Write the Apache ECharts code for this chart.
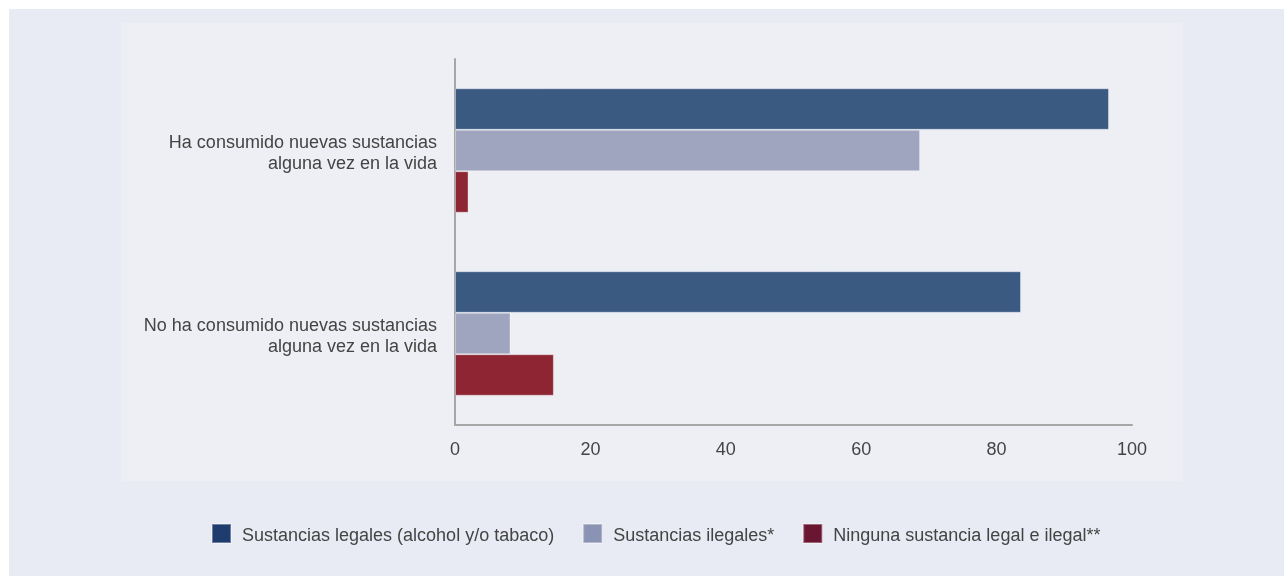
<!DOCTYPE html>
<html>
<head>
<meta charset="utf-8">
<script src="https://cdn.jsdelivr.net/npm/echarts@6/dist/echarts.min.js"></script>
<style>
html,body{margin:0;padding:0;background:#ffffff;width:1284px;height:578px;overflow:hidden;}
#outer{position:absolute;left:9px;top:9px;width:1275px;height:567px;background:#e8ebf4;}
#inner{position:absolute;left:121px;top:23px;width:1062px;height:458px;background:#eeeff5;}
#chart{position:absolute;left:0;top:0;width:1284px;height:578px;}
</style>
</head>
<body>
<div id="outer"></div>
<div id="inner"></div>
<div id="chart"></div>
<script>
const categories = ["Ha consumido nuevas sustancias\nalguna vez en la vida", "No ha consumido nuevas sustancias\nalguna vez en la vida"];
const seriesNames = ["Sustancias legales (alcohol y/o tabaco)", "Sustancias ilegales*", "Ninguna sustancia legal e ilegal**"];
const legales = [96.6, 83.6];
const ilegales = [68.7, 8.2];
const ninguna = [2.0, 14.6];
const xTicks = [0, 20, 40, 60, 80, 100];

const barColors = ["#3b5a82", "#a0a5bf", "#8e2533"];
const legendColors = ["#1f3c6e", "#8b93b5", "#6a1532"];
const values = [legales, ilegales, ninguna];

const chart = echarts.init(document.getElementById('chart'), null, {renderer: 'canvas'});
const font = "'Liberation Sans', Arial, Helvetica, sans-serif";

chart.setOption({
  backgroundColor: 'transparent',
  animation: false,
  textStyle: {fontFamily: font},
  grid: {left: 455, right: 152, top: 59, bottom: 153, containLabel: false},
  legend: {
    left: 206, top: 518,
    itemWidth: 19, itemHeight: 19, itemGap: 28,
    icon: 'rect',
    formatter: n => '{s| }\n{t|' + n + '}',
    textStyle: {
      fontFamily: font, fontSize: 18, color: '#444', padding: [0, 0, 0, 6],
      rich: {
        s: {fontSize: 1, lineHeight: 5},
        t: {fontFamily: font, fontSize: 18, color: '#444', lineHeight: 20}
      }
    },
    data: seriesNames.map((n, i) => ({name: n, itemStyle: {color: legendColors[i]}}))
  },
  xAxis: {
    type: 'value', min: xTicks[0], max: xTicks[xTicks.length - 1], interval: 20,
    axisLine: {show: true, lineStyle: {color: '#a6a6a6', width: 2}},
    axisTick: {show: false},
    splitLine: {show: false},
    axisLabel: {fontFamily: font, fontSize: 18, color: '#444', margin: 16}
  },
  yAxis: {
    type: 'category', data: categories, inverse: true,
    axisLine: {show: true, lineStyle: {color: '#a6a6a6', width: 2}},
    axisTick: {show: false},
    axisLabel: {
      margin: 18, align: 'right',
      formatter: v => '{s| }\n' + v.split('\n').map(l => '{a|' + l + '}').join('\n'),
      rich: {
        s: {fontSize: 1, lineHeight: 6},
        a: {fontFamily: font, fontSize: 18, color: '#444', lineHeight: 21, align: 'right'}
      }
    }
  },
  series: seriesNames.map((n, i) => ({
    name: n, type: 'bar', data: values[i],
    barGap: '0%', barCategoryGap: '32%',
    itemStyle: {color: barColors[i], borderColor: 'rgba(255,255,255,0.35)', borderWidth: 1}
  }))
});
</script>
</body>
</html>
